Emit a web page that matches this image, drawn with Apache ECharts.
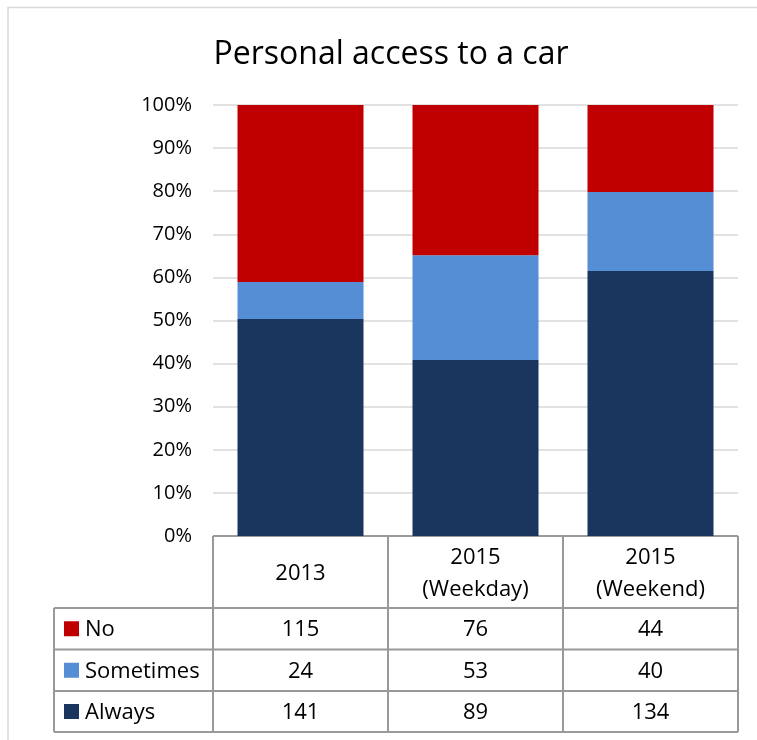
<!DOCTYPE html>
<html>
<head>
<meta charset="utf-8">
<script src="https://cdn.jsdelivr.net/npm/echarts@6/dist/echarts.min.js"></script>
<style>
  html, body { margin: 0; padding: 0; background: #fff; }
  #chart { width: 757px; height: 740px; }
</style>
</head>
<body>
<div id="chart"></div>
<script>
// Survey counts per group
const categories = ['2013', '2015\n(Weekday)', '2015\n(Weekend)'];
const seriesNames = ['No', 'Sometimes', 'Always'];
const noCounts = [115, 76, 44];
const sometimesCounts = [24, 53, 40];
const alwaysCounts = [141, 89, 134];
const yTicks = [0, 10, 20, 30, 40, 50, 60, 70, 80, 90, 100];

const colors = { No: '#C00000', Sometimes: '#558ED5', Always: '#1B365E' };
const FONT = '"Open Sans", "Noto Sans", sans-serif';

const totals = categories.map((_, i) => noCounts[i] + sometimesCounts[i] + alwaysCounts[i]);
const pct = arr => arr.map((v, i) => v / totals[i] * 100);

const chart = echarts.init(document.getElementById('chart'), null, { renderer: 'canvas' });

const GRID = { left: 213, right: 19, top: 105, bottom: 204 };

chart.setOption({
  animation: false,
  backgroundColor: '#fff',
  title: {
    text: 'Personal access to a car',
    left: 386, top: 34, textAlign: 'center',
    textStyle: { fontFamily: FONT, fontSize: 32, fontWeight: 'normal', color: '#000' }
  },
  grid: GRID,
  xAxis: {
    type: 'category',
    data: categories,
    axisLine: { show: false },
    axisTick: { show: false },
    axisLabel: { show: false }
  },
  yAxis: {
    type: 'value',
    min: 0, max: 100, interval: 10,
    axisLine: { show: false },
    axisTick: { show: false },
    axisLabel: {
      formatter: v => yTicks.includes(v) ? v + '%' : '',
      fontFamily: FONT, fontSize: 20, color: '#000', margin: 21
    },
    splitLine: { lineStyle: { color: '#d9d9d9', width: 1.5 } }
  },
  series: [
    { name: 'Always', type: 'bar', stack: 'all', data: pct(alwaysCounts), barWidth: 126,
      itemStyle: { color: colors.Always } },
    { name: 'Sometimes', type: 'bar', stack: 'all', data: pct(sometimesCounts),
      itemStyle: { color: colors.Sometimes } },
    { name: 'No', type: 'bar', stack: 'all', data: pct(noCounts),
      itemStyle: { color: colors.No } }
  ]
});

// Data table under the plot, aligned to the category axis
function buildTable() {
  const tableColor = '#999999';
  const lw = 2;
  const plotLeft = GRID.left;
  const plotRight = 757 - GRID.right;
  const headerTop = 740 - GRID.bottom;
  const rowTops = [608, 649.5, 691, 732];
  const legendLeft = 54;
  const step = chart.convertToPixel({ xAxisIndex: 0 }, categories[1]) -
               chart.convertToPixel({ xAxisIndex: 0 }, categories[0]);
  const centers = categories.map(c => chart.convertToPixel({ xAxisIndex: 0 }, c));
  const colEdges = [plotLeft].concat(centers.map(c => c + step / 2));

  const els = [];
  const line = (x1, y1, x2, y2) => els.push({
    type: 'line', shape: { x1, y1, x2, y2 },
    style: { stroke: tableColor, lineWidth: lw }
  });

  // horizontal lines
  line(plotLeft, headerTop, plotRight, headerTop);
  rowTops.forEach(y => line(legendLeft, y, plotRight, y));
  // vertical lines
  line(legendLeft, rowTops[0], legendLeft, rowTops[3]);
  colEdges.forEach(x => line(x, headerTop, x, rowTops[3]));

  const textStyle = { fontFamily: FONT, fontSize: 22, fill: '#000' };

  // header labels
  categories.forEach((c, i) => els.push({
    type: 'text', x: centers[i], y: (headerTop + rowTops[0]) / 2 + 1.5,
    style: Object.assign({ text: c, align: 'center', verticalAlign: 'middle', lineHeight: 32 }, textStyle)
  }));

  // series rows
  const rows = [noCounts, sometimesCounts, alwaysCounts];
  seriesNames.forEach((name, r) => {
    const cy = (rowTops[r] + rowTops[r + 1]) / 2;
    els.push({ type: 'rect', shape: { x: 64, y: cy - 7.5, width: 15, height: 15 },
      style: { fill: colors[name] } });
    els.push({ type: 'text', x: 85, y: cy + 1,
      style: Object.assign({ text: name, align: 'left', verticalAlign: 'middle' }, textStyle) });
    rows[r].forEach((v, i) => els.push({
      type: 'text', x: centers[i], y: cy + 1,
      style: Object.assign({ text: String(v), align: 'center', verticalAlign: 'middle' }, textStyle)
    }));
  });

  // chart area outline
  els.push({ type: 'rect', shape: { x: 8, y: 7.5, width: 800, height: 800 },
    style: { fill: 'none', stroke: '#d9d9d9', lineWidth: 1.5 }, z: -1 });

  chart.setOption({ graphic: els });
}
buildTable();
</script>
</body>
</html>
